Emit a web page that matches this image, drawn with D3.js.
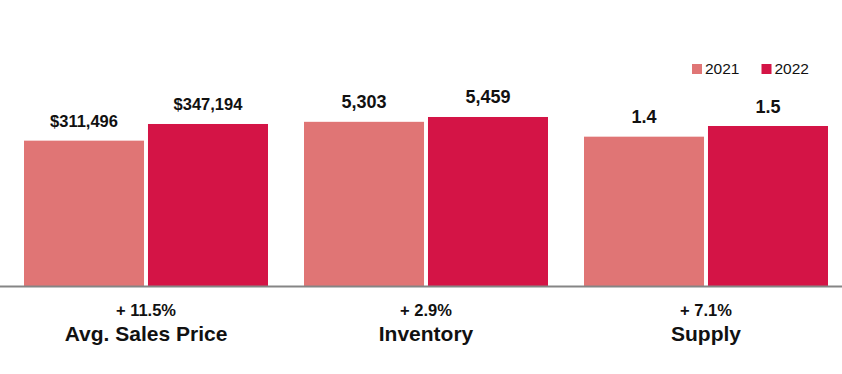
<!DOCTYPE html>
<html>
<head>
<meta charset="utf-8">
<script src="https://cdn.jsdelivr.net/npm/d3@7"></script>
<style>
body { margin: 0; background: #fff; }
svg { display: block; font-family: "Liberation Sans", Arial, sans-serif; }
</style>
</head>
<body>
<div id="chart"></div>
<script>

/* ==========================
   Data
========================== */

const categories = ["Avg. Sales Price", "Inventory", "Supply"];
const years = ["2021", "2022"];
const values2021 = [311496, 5303, 1.4];
const values2022 = [347194, 5459, 1.5];
const valueLabels2021 = ["$311,496", "5,303", "1.4"];
const valueLabels2022 = ["$347,194", "5,459", "1.5"];
// each group has its own value axis
const groupMax = [428600, 6460, 1.875];

const colors = { "2021": "#e07575", "2022": "#d41446" };

/* ==========================
   Chart
========================== */

const width = 842;
const height = 374;
const baseline = 286;
const plotTop = 86;

const svg = d3.select("#chart")
.append("svg")
.attr("width", width)
.attr("height", height);

const x0 = d3.scaleBand()
.domain(categories)
.range([6, 846]);

const x1 = d3.scaleBand()
.domain(years)
.range([0, 244])
.paddingInner(0.032);

const groupOffset = (x0.bandwidth() - 244) / 2;

const groups = categories.map((c, i) => ({
name: c,
max: groupMax[i],
bars: [
{ year: "2021", value: values2021[i], label: valueLabels2021[i] },
{ year: "2022", value: values2022[i], label: valueLabels2022[i] }
],
change: (values2022[i] / values2021[i] - 1)
}));

const g = svg.selectAll("g.group")
.data(groups)
.enter()
.append("g")
.attr("class", "group")
.attr("transform", d => `translate(${x0(d.name) + groupOffset},0)`);

g.each(function(d){

const y = d3.scaleLinear()
.domain([0, d.max])
.range([baseline, plotTop]);

const grp = d3.select(this);

grp.selectAll("rect")
.data(d.bars)
.enter()
.append("rect")
.attr("x", b => x1(b.year))
.attr("y", b => y(b.value))
.attr("width", x1.bandwidth())
.attr("height", b => baseline - y(b.value))
.attr("fill", b => colors[b.year]);

grp.selectAll("text.value")
.data(d.bars)
.enter()
.append("text")
.attr("class", "value")
.attr("x", b => x1(b.year) + x1.bandwidth() / 2)
.attr("y", b => y(b.value) - 13.5)
.attr("text-anchor", "middle")
.attr("font-weight", "bold")
.attr("font-size", b => b.label.length > 6 ? 16.5 : 18)
.attr("fill", "#111")
.text(b => b.label);

});

/* axis line */

svg.append("line")
.attr("x1", 0)
.attr("x2", width)
.attr("y1", baseline + 0.5)
.attr("y2", baseline + 0.5)
.attr("stroke", "#858585")
.attr("stroke-width", 2);

/* category labels */

const pct = d3.format(".1%");

svg.selectAll("text.change")
.data(groups)
.enter()
.append("text")
.attr("class", "change")
.attr("x", d => x0(d.name) + x0.bandwidth() / 2)
.attr("y", 315.5)
.attr("text-anchor", "middle")
.attr("font-weight", "bold")
.attr("font-size", 16.5)
.attr("fill", "#111")
.text(d => "+ " + pct(d.change));

svg.selectAll("text.cat")
.data(groups)
.enter()
.append("text")
.attr("class", "cat")
.attr("x", d => x0(d.name) + x0.bandwidth() / 2)
.attr("y", 341)
.attr("text-anchor", "middle")
.attr("font-weight", "bold")
.attr("font-size", 21)
.attr("fill", "#111")
.text(d => d.name);

/* legend */

const legend = svg.append("g")
.attr("transform", "translate(692,64)");

const item = legend.selectAll("g")
.data(years)
.enter()
.append("g")
.attr("transform", (d, i) => `translate(${i * 69.5},0)`);

item.append("rect")
.attr("width", 10)
.attr("height", 10)
.attr("fill", d => colors[d]);

item.append("text")
.attr("x", 13)
.attr("y", 10)
.attr("font-size", 15.5)
.attr("fill", "#111")
.text(d => d);

</script>
</body>
</html>
